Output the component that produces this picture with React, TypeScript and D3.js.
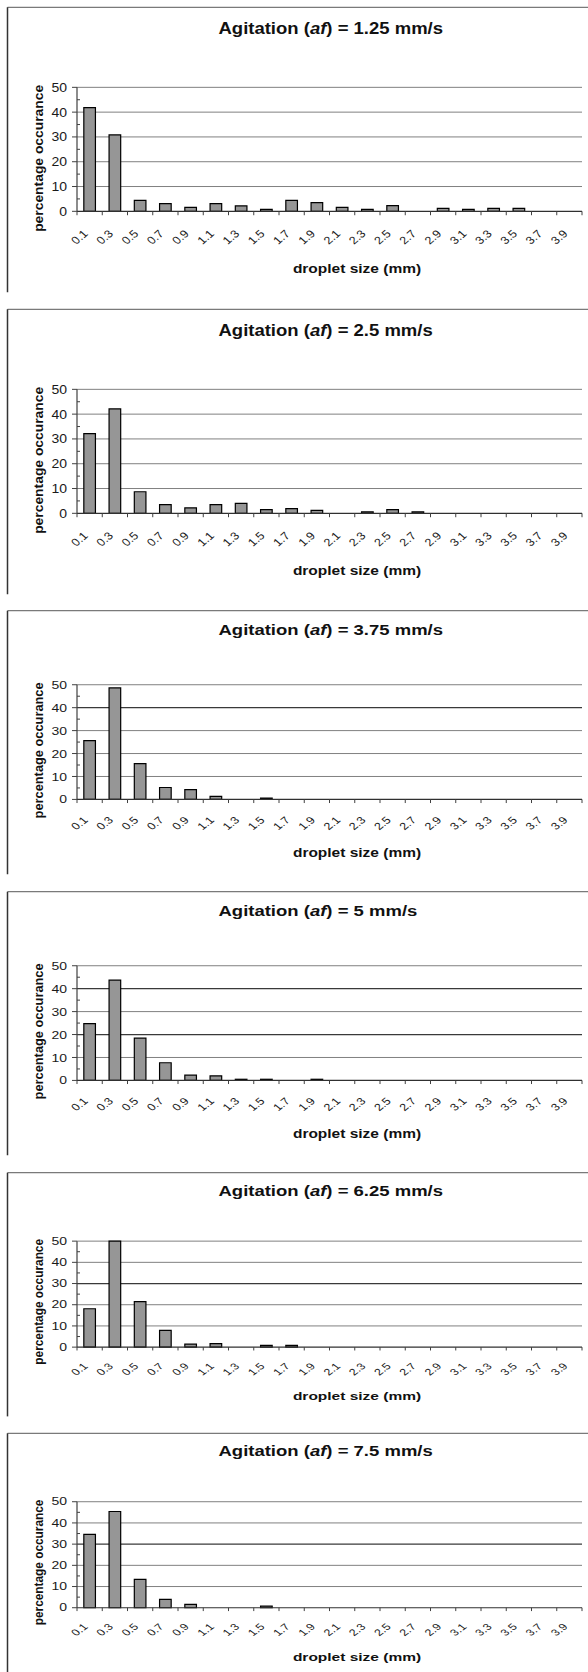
import React from "react";
import * as d3 from "d3";

// ---------- data ----------
const sizes = ["0.1","0.3","0.5","0.7","0.9","1.1","1.3","1.5","1.7","1.9","2.1","2.3","2.5","2.7","2.9","3.1","3.3","3.5","3.7","3.9"];
const agitations = ["1.25", "2.5", "3.75", "5", "6.25", "7.5"];
const pct125 = [41.8, 30.8, 4.4, 3.1, 1.6, 3.1, 2.2, 0.8, 4.4, 3.5, 1.6, 0.8, 2.3, 0, 1.2, 0.8, 1.2, 1.2, 0, 0];
const pct25 = [32.1, 42.1, 8.7, 3.5, 2.2, 3.5, 4.0, 1.5, 1.9, 1.2, 0, 0.6, 1.5, 0.6, 0, 0, 0, 0, 0, 0];
const pct375 = [25.6, 48.6, 15.6, 5.2, 4.3, 1.3, 0, 0.6, 0, 0, 0, 0, 0, 0, 0, 0, 0, 0, 0, 0];
const pct5 = [24.8, 43.7, 18.4, 7.7, 2.3, 2.0, 0.5, 0.5, 0, 0.5, 0, 0, 0, 0, 0, 0, 0, 0, 0, 0];
const pct625 = [18.1, 50.0, 21.5, 7.9, 1.4, 1.7, 0, 0.8, 0.8, 0, 0, 0, 0, 0, 0, 0, 0, 0, 0, 0];
const pct75 = [34.6, 45.4, 13.4, 3.9, 1.6, 0, 0, 0.8, 0, 0, 0, 0, 0, 0, 0, 0, 0, 0, 0, 0];
const series = [pct125, pct25, pct375, pct5, pct625, pct75];
const yTicks = [0, 10, 20, 30, 40, 50];
const yMinor = [5, 15, 25, 35, 45];

// ---------- layout / style ----------
const W = 588, H = 1672;
const panelTops = [7.3, 309.3, 610.7, 891.7, 1172.7, 1433.3];
const panelScale = [1, 1, 0.925, 0.925, 0.855, 0.855];
const darkGrid = [[], [], [40], [40, 20], [30], [30]];
const BASE = 0.87;
const plotL = 77, plotR = 582;
const y50 = 92, y0 = 234.5;
const FONT = "'Liberation Sans', Arial, Helvetica, sans-serif";

const x = d3.scaleBand<string>().domain(sizes).range([plotL, plotR]).paddingInner(0.54).paddingOuter(0.27);
const y = d3.scaleLinear().domain([0, 50]).range([y0, y50]);
const step = x.step();
const gap = (step - x.bandwidth()) / 2;
const boundaries = sizes.map((s) => (x(s) as number) - gap).concat([plotR]);

function Panel({ idx }: { idx: number }) {
  const s = BASE * panelScale[idx];
  const vals = series[idx];
  const ns = { vectorEffect: "non-scaling-stroke" as const };
  return (
    <g transform={`translate(0,${panelTops[idx]}) scale(1,${s})`}>
      {/* frame */}
      <line x1={7.5} x2={W} y1={0} y2={0} stroke="#7a7a7a" strokeWidth={1.3} {...ns} />
      <line x1={7.5} x2={7.5} y1={0} y2={327.6} stroke="#333" strokeWidth={1.5} {...ns} />
      {/* title */}
      <text x={218.5} y={30.7} fontFamily={FONT} fontSize={18.5} fontWeight="bold" fill="#111">
        Agitation (<tspan fontStyle="italic">af</tspan>) = {agitations[idx]} mm/s
      </text>
      {/* gridlines */}
      {yTicks.filter((t) => t > 0).map((t) => {
        const dark = (darkGrid[idx] as number[]).includes(t);
        return (
          <line key={t} x1={plotL} x2={plotR} y1={y(t)} y2={y(t)}
            stroke={dark ? "#3a3a3a" : "#808080"} strokeWidth={dark ? 1.3 : 1} {...ns} />
        );
      })}
      {/* y major ticks */}
      {yTicks.map((t) => (
        <line key={"mt" + t} x1={plotL - 5} x2={plotL} y1={y(t)} y2={y(t)} stroke="#404040" strokeWidth={1} {...ns} />
      ))}
      {yMinor.map((t) => (
        <line key={"mn" + t} x1={plotL} x2={plotL + 3} y1={y(t)} y2={y(t)} stroke="#404040" strokeWidth={1} {...ns} />
      ))}
      {/* y tick labels */}
      {yTicks.map((t) => (
        <text key={"yl" + t} x={67} y={y(t)} dy="0.36em" textAnchor="end" fontFamily={FONT} fontSize={14} fill="#1a1a1a">
          {t}
        </text>
      ))}
      {/* bars */}
      {sizes.map((c, i) =>
        vals[i] > 0 ? (
          <rect
            key={"b" + c}
            x={x(c) as number}
            width={x.bandwidth()}
            y={y(vals[i])}
            height={y(0) - y(vals[i])}
            fill="#969696"
            stroke="#000"
            strokeWidth={1.2}
            {...ns}
          />
        ) : null
      )}
      {/* axes */}
      <line x1={plotL} x2={plotL} y1={y(50)} y2={y(0)} stroke="#404040" strokeWidth={1.2} {...ns} />
      <line x1={plotL} x2={plotR} y1={y(0)} y2={y(0)} stroke="#303030" strokeWidth={1.2} {...ns} />
      {boundaries.map((bx, i) => (
        <line key={"xt" + i} x1={bx} x2={bx} y1={y(0)} y2={y(0) + 4.5} stroke="#404040" strokeWidth={1} {...ns} />
      ))}
      {/* x tick labels */}
      {sizes.map((c) => {
        const cx = (x(c) as number) + x.bandwidth() / 2 - 1;
        return (
          <text
            key={"xl" + c}
            transform={`translate(${cx},${y0 + 26.5}) rotate(-45)`}
            textAnchor="end"
            fontFamily={FONT}
            fontSize={12.5}
            fill="#1a1a1a"
          >
            {c}
          </text>
        );
      })}
      {/* axis titles */}
      <text x={357} y={305.5} textAnchor="middle" fontFamily={FONT} fontSize={15.5} fontWeight="bold" fill="#111">
        droplet size (mm)
      </text>
      <text
        transform={`translate(43,173.6) rotate(-90)`}
        textAnchor="middle"
        fontFamily={FONT}
        fontSize={13.5}
        fontWeight="bold"
        fill="#111"
        textLength={169}
        lengthAdjust="spacingAndGlyphs"
      >
        percentage occurance
      </text>
    </g>
  );
}

export default function App() {
  return (
    <svg
      width={W}
      height={H}
      viewBox={`0 0 ${W} ${H}`}
      style={{ position: "absolute", left: 0, top: 0, background: "#fff" }}
    >
      <rect x={0} y={0} width={W} height={H} fill="#fff" />
      {agitations.map((_, i) => (
        <Panel key={i} idx={i} />
      ))}
    </svg>
  );
}
